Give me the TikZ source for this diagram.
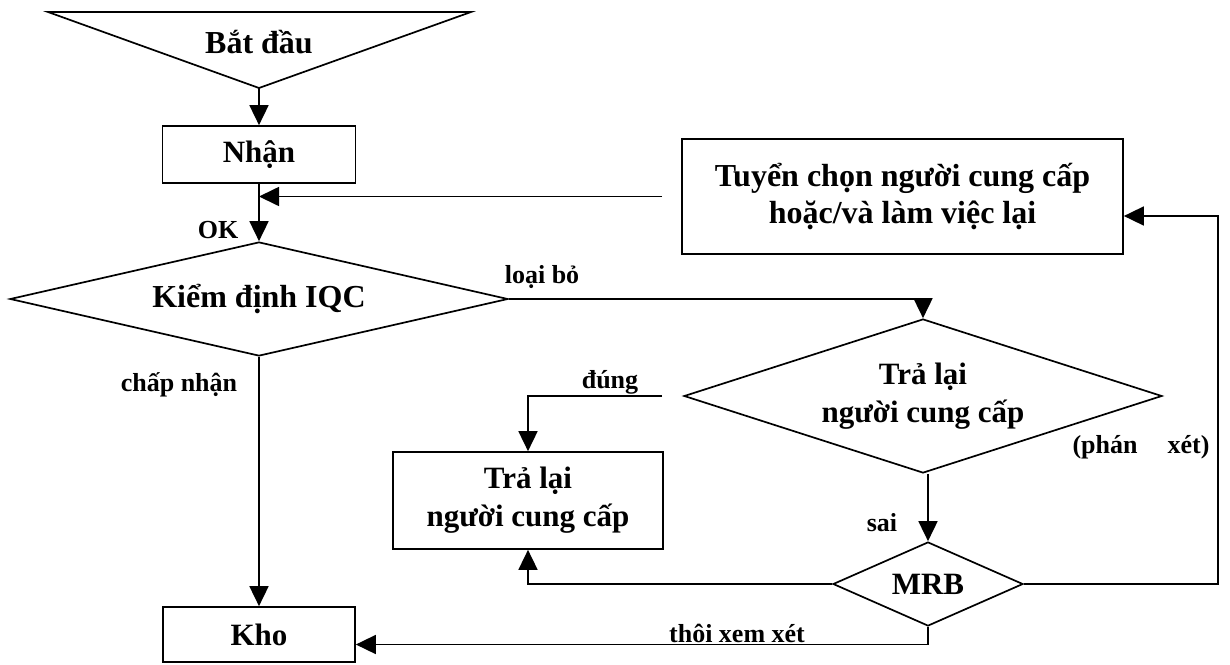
\documentclass[tikz,border=0pt]{standalone}
\usepackage{fontspec}
\setmainfont{Liberation Serif}
\usetikzlibrary{shapes.geometric,arrows.meta}

\begin{document}
\begin{tikzpicture}[x=1pt,y=-1pt,line width=1.7pt,
    >={Triangle[length=20pt,width=19pt]}]

  \useasboundingbox (0,0) rectangle (1230,664);

  % start marker
  \coordinate (tl)  at (48,12);
  \coordinate (tr)  at (471,12);
  \coordinate (tip) at (259,88);
  \draw (tl) -- (tr) -- (tip) -- cycle;
  \node[font=\fontsize{32}{36}\selectfont\bfseries] (start) at (259,42) {Bắt đầu};

  \begin{scope}[every node/.style={draw,inner sep=0pt,align=center,
      font=\fontsize{31}{38}\selectfont\bfseries}]
    \node[minimum width=193pt,minimum height=57pt] (recv) at (259,154.5) {Nhận};
    \node[diamond,aspect=4.4,minimum width=498pt,minimum height=114pt,
      font=\fontsize{32}{38}\selectfont\bfseries] (iqc) at (259,299) {Kiểm định IQC};
    \node[minimum width=441pt,minimum height=115pt,
      font=\fontsize{32}{37}\selectfont\bfseries] (select) at (902.5,196.5)
      {Tuyển chọn người cung cấp\\hoặc/và làm việc lại};
    \node[diamond,aspect=3.1,minimum width=478pt,minimum height=154pt] (ret) at (923,396)
      {Trả lại\\người cung cấp};
    \node[minimum width=270pt,minimum height=97pt] (rej) at (528,500.5)
      {Trả lại\\người cung cấp};
    \node[diamond,aspect=2.3,minimum width=190pt,minimum height=84pt] (mrb) at (928,584) {MRB};
    \node[minimum width=192pt,minimum height=55pt] (store) at (259,634.5) {Kho};
  \end{scope}

  \coordinate (back) at (1218,216);

  % connectors
  \draw[->] (tip) -- (recv);
  \draw[->] (recv) -- (iqc);
  \draw[->] ([xshift=-19pt]select.west) -- (select.west -| recv.south);
  \draw[->] (iqc.east) -| (ret.north);
  \draw[->] ([xshift=-21pt]ret.west) -| (rej.north);
  \draw[->] (mrb.north |- ret.south) -- (mrb.north);
  \draw[->] (mrb.west) -| (rej.south);
  \draw[->] (mrb.east) -- (mrb.east -| back) -- (back) -- (back -| select.east);
  \draw[->] (mrb.south) |- ([yshift=-10pt]store.east);
  \draw[->] (iqc) -- (store);

  \begin{scope}[every node/.style={font=\fontsize{26}{30}\selectfont\bfseries}]
    \node (ok)     at (218,230) {OK};
    \node (lrej)   at (542,277) {loại bỏ};
    \node (lacc)   at (179,385) {chấp nhận};
    \node (lyes)   at (610,382) {đúng};
    \node (lno)    at (882,523) {sai};
    \node (ljudge) at (1141,447) {(phán\hspace{30pt}xét)};
    \node (ldrop)  at (737,633) {thôi xem xét};
  \end{scope}

\end{tikzpicture}
\end{document}
